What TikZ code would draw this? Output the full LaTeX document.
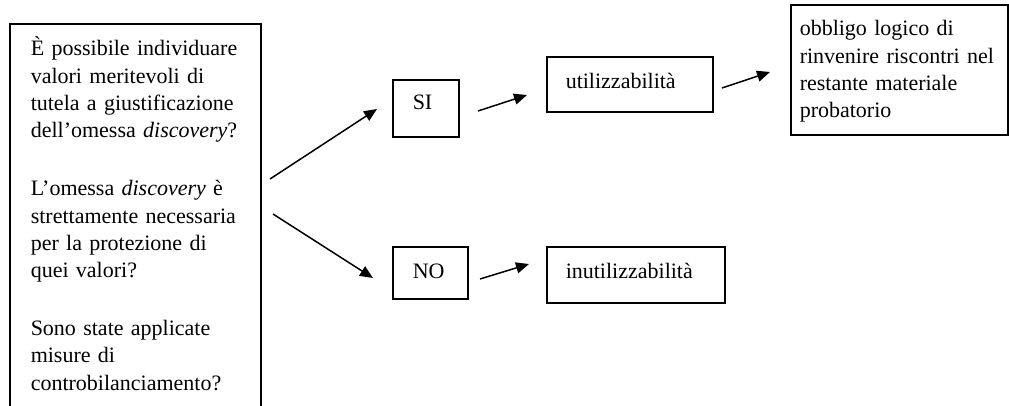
\documentclass[tikz,border=0pt]{standalone}
\usepackage{fontspec}
\setmainfont{Liberation Serif}
\usetikzlibrary{arrows.meta}
\begin{document}
\begin{tikzpicture}[x=1pt,y=-1pt,
  box/.style={draw, line width=1.5pt, anchor=north west, align=left,
    inner ysep=0pt, font=\fontsize{22}{27.4}\selectfont},
  arr/.style={line width=1.5pt, -{Triangle[length=13pt,width=11pt]}}]
\useasboundingbox (0,0) rectangle (1009,405);
\node[box, inner xsep=21pt, text width=209pt, text height=32pt, text depth=385pt] (q) at (9,23)
 {È possibile individuare\\valori meritevoli di\\tutela a giustificazione\\dell’omessa \textit{discovery}?\\[30.3pt]
  L’omessa \textit{discovery} è\\strettamente necessaria\\per la protezione di\\quei valori?\\[30.3pt]
  Sono state applicate\\misure di\\controbilanciamento?};
\node[box, inner xsep=20pt, text width=26pt, text height=30pt, text depth=27pt] (si) at (392,79) {SI};
\node[box, inner xsep=20pt, text width=35pt, text height=32pt, text depth=20pt] (no) at (392,246) {NO};
\node[box, inner xsep=19pt, text width=128pt, text height=32pt, text depth=23pt] (ut) at (546,56) {utilizzabilità};
\node[box, inner xsep=19pt, text width=140pt, text height=32pt, text depth=24pt] (inut) at (546,246) {inutilizzabilità};
\node[box, inner xsep=9pt, text width=199pt, text height=31pt, text depth=99pt] (ob) at (790,4)
 {obbligo logico di\\rinvenire riscontri nel\\restante materiale\\probatorio};
\coordinate (a1s) at (270,179); \coordinate (a1e) at (377,109);
\coordinate (a2s) at (273,214); \coordinate (a2e) at (373,278);
\coordinate (a3s) at (478,111); \coordinate (a3e) at (527,95);
\coordinate (a4s) at (480,279); \coordinate (a4e) at (529,264);
\coordinate (a5s) at (722,88);  \coordinate (a5e) at (770,72);
\draw[arr] (a1s) -- (a1e);
\draw[arr] (a2s) -- (a2e);
\draw[arr] (a3s) -- (a3e);
\draw[arr] (a4s) -- (a4e);
\draw[arr] (a5s) -- (a5e);
\end{tikzpicture}
\end{document}
